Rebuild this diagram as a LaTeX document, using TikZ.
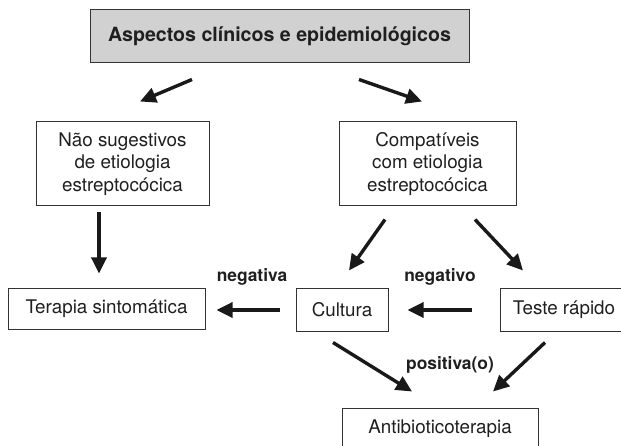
\documentclass[tikz,border=0pt]{standalone}
\usepackage{fontspec}
\setmainfont{TeX Gyre Heros}
\usetikzlibrary{arrows.meta}
\newcommand{\boxfont}{\fontsize{18.8}{22.5}\selectfont}
\newcommand{\lblfont}{\fontsize{17.4}{20}\selectfont\bfseries}

\begin{document}
\begin{tikzpicture}[x=1pt, y=-1pt]
        \tikzstyle{rect} = [draw=black!80, line width=1pt, rectangle, inner sep=0pt, align=center, text=black!88, font=\boxfont]
        \tikzstyle{filledrect} = [rect, fill=black!18, font=\fontsize{19.6}{22}\selectfont\bfseries]
        \tikzstyle{arr} = [-{Triangle[length=16pt, width=15pt]}, line width=3.4pt, black!90]
        \tikzstyle{lbl} = [inner sep=0pt, text=black!88, font=\lblfont]
        \useasboundingbox (0,0) rectangle (621,446);
        \node (top) [filledrect, minimum width=379pt, minimum height=53pt] at (279.5,36.5) {Aspectos clínicos e epidemiológicos};
        \node (nao) [rect, minimum width=173pt, minimum height=84pt] at (122.5,164) {Não sugestivos\\de etiologia\\estreptocócica};
        \node (compat) [rect, minimum width=177pt, minimum height=84pt] at (427.5,164) {Compatíveis\\com etiologia\\estreptocócica};
        \node (terapia) [rect, minimum width=197pt, minimum height=40pt] at (106.5,309) {Terapia sintomática};
        \node (cultura) [rect, minimum width=92pt, minimum height=42pt] at (342,310) {Cultura};
        \node (teste) [rect, minimum width=128pt, minimum height=42pt] at (564,310) {Teste rápido};
        \node (antib) [rect, minimum width=196pt, minimum height=42pt] at (440,429) {Antibioticoterapia};
        \node (neg1) [lbl] at (252,277) {negativa};
        \node (neg2) [lbl] at (440,277) {negativo};
        \node (pos) [lbl] at (450,365) {positiva(o)};
        \draw[arr] ([shift={(-87.5pt,-16pt)}]top.south) -- ([shift={(17.5pt,20pt)}]nao.north);
        \draw[arr] ([shift={(79.5pt,-16pt)}]top.south) -- ([shift={(-5.5pt,20pt)}]compat.north);
        \draw[arr] ([shift={(-23.5pt,-6pt)}]nao.south) -- ([shift={(-7.5pt,15pt)}]terapia.north);
        \draw[arr] ([shift={(-42.5pt,-13pt)}]compat.south) -- ([shift={(7pt,18pt)}]cultura.north);
        \draw[arr] ([shift={(47.5pt,-13pt)}]compat.south) -- ([shift={(-41pt,18pt)}]teste.north);
        \draw[arr, shorten <=16pt, shorten >=11pt] (cultura.west) -- (cultura.west -| terapia.east);
        \draw[arr, shorten <=28pt, shorten >=19pt] (teste.west) -- (cultura.east);
        \draw[arr] ([shift={(-9pt,-11pt)}]cultura.south) -- ([shift={(-28pt,16pt)}]antib.north);
        \draw[arr] ([shift={(-19pt,-11pt)}]teste.south) -- ([shift={(53pt,16pt)}]antib.north);
    \end{tikzpicture}
\end{document}
